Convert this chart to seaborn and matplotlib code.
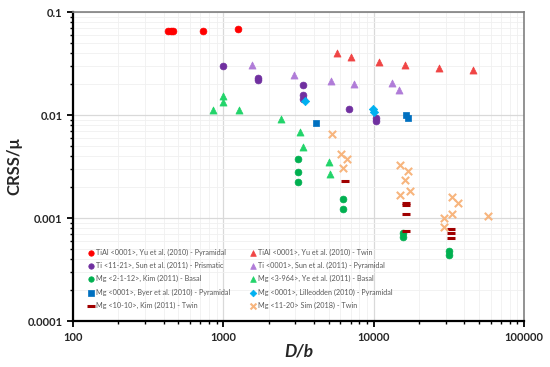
"""CRSS/mu vs D/b scatter for TiAl, Ti and Mg micropillar data."""
import matplotlib
matplotlib.use("Agg")
import matplotlib.pyplot as plt
import matplotlib.ticker as mticker
import pandas as pd
import seaborn as sns

# --- data ---
tial_pyr_x = [425, 445, 462, 735, 1240]
tial_pyr_y = [0.066, 0.066, 0.066, 0.066, 0.068]

tial_twin_x = [5670, 7030, 10800, 16100, 27100, 45700]
tial_twin_y = [0.040, 0.0366, 0.0327, 0.0306, 0.0286, 0.0274]

ti_prism_x = [1000, 1700, 1700, 3360, 3360, 3400, 6810, 10300, 10300]
ti_prism_y = [0.030, 0.0229, 0.0219, 0.0195, 0.0156, 0.0143, 0.0114, 0.0093, 0.0088]

ti_pyr_x = [1540, 2930, 5170, 7360, 13200, 14700]
ti_pyr_y = [0.0306, 0.0244, 0.0214, 0.020, 0.0205, 0.0175]

mg_kim_basal_x = [3110, 3110, 3110, 6210, 6210, 15600, 15600, 31600, 31600]
mg_kim_basal_y = [0.00374, 0.0028, 0.00224, 0.00153, 0.00122, 0.000714, 0.00066, 0.00048, 0.000437]

mg_ye_basal_x = [858, 1000, 1000, 1260, 2400, 3210, 3360, 5010, 5100]
mg_ye_basal_y = [0.0112, 0.0153, 0.0134, 0.0112, 0.00914, 0.00684, 0.00489, 0.0035, 0.00267]

mg_byer_x = [4100, 16300, 16800]
mg_byer_y = [0.00835, 0.0100, 0.00934]

mg_lill_x = [3470, 9950, 10100]
mg_lill_y = [0.0137, 0.0115, 0.0108]

mg_kim_twin_x = [6410, 16300, 16300, 16300, 16300, 32600, 32600, 32600]
mg_kim_twin_y = [0.00229, 0.0014, 0.00134, 0.00109, 0.00075, 0.000776, 0.000721, 0.000635]

mg_sim_x = [5250, 6030, 6610, 6210, 14900, 16800, 16100, 17400, 14900,
            33100, 36300, 33100, 29300, 29300, 57500]
mg_sim_y = [0.00655, 0.00418, 0.00374, 0.00305, 0.00327, 0.00286, 0.00234, 0.00183, 0.00167,
            0.0016, 0.00139, 0.00109, 0.001, 0.00082, 0.00104]

x_ticks = [100, 1000, 10000, 100000]
y_ticks = [0.0001, 0.001, 0.01, 0.1]
y_tick_labels = ['0.0001', '0.001', '0.01', '0.1']

# label, x, y, marker, color, size, line width
series = [
    ('TiAl <0001>, Yu et al. (2010) - Pyramidal', tial_pyr_x, tial_pyr_y, 'o', '#ff0000', 24, 0.5),
    ('Ti <11-21>, Sun et al. (2011) - Prismatic', ti_prism_x, ti_prism_y, 'o', '#7030a0', 24, 0.5),
    ('Mg <2-1-12>, Kim (2011) - Basal', mg_kim_basal_x, mg_kim_basal_y, 'o', '#00b050', 24, 0.5),
    ('Mg <0001>, Byer et al. (2010) - Pyramidal', mg_byer_x, mg_byer_y, 's', '#0070c0', 22, 0.5),
    ('Mg <10-10>, Kim (2011) - Twin', mg_kim_twin_x, mg_kim_twin_y, '_', '#a00000', 40, 2.2),
    ('TiAl <0001>, Yu et al. (2010) - Twin', tial_twin_x, tial_twin_y, '^', '#f04545', 26, 0.5),
    ('Ti <0001>, Sun et al. (2011) - Pyramidal', ti_pyr_x, ti_pyr_y, '^', '#b07cd8', 26, 0.5),
    ('Mg <3-964>, Ye et al. (2011) - Basal', mg_ye_basal_x, mg_ye_basal_y, '^', '#22d46a', 26, 0.5),
    ('Mg <0001>, Lilleodden (2010) - Pyramidal', mg_lill_x, mg_lill_y, 'D', '#00b0f0', 18, 0.5),
    ('Mg <11-20> Sim (2018) - Twin', mg_sim_x, mg_sim_y, 'x', '#f7b57e', 28, 1.5),
]

sns.set_style("white")
plt.rcParams['font.family'] = ['Lato', 'DejaVu Sans']

fig, ax = plt.subplots(figsize=(5.5, 3.67), dpi=100)
fig.subplots_adjust(left=0.133, right=0.953, top=0.967, bottom=0.125)

for label, xs, ys, marker, color, size, lw in series:
    df = pd.DataFrame({'D/b': xs, 'CRSS': ys})
    sns.scatterplot(data=df, x='D/b', y='CRSS', ax=ax, marker=marker, color=color,
                    s=size, edgecolor=color if marker not in ('x', '_') else None,
                    linewidth=lw, label=label, zorder=3)

ax.set_xscale('log')
ax.set_yscale('log')
ax.set_xlim(100, 100000)
ax.set_ylim(0.0001, 0.1)
ax.set_xticks(x_ticks)
ax.set_xticklabels([str(v) for v in x_ticks])
ax.set_yticks(y_ticks)
ax.set_yticklabels(y_tick_labels)
ax.xaxis.set_minor_locator(mticker.LogLocator(base=10, subs=range(2, 10)))
ax.yaxis.set_minor_locator(mticker.LogLocator(base=10, subs=range(2, 10)))
ax.xaxis.set_minor_formatter(mticker.NullFormatter())
ax.yaxis.set_minor_formatter(mticker.NullFormatter())

ax.grid(which='major', color='#d9d9d9', linewidth=0.9, zorder=0)
ax.grid(which='minor', color='#f0f0f0', linewidth=0.6, zorder=0)
ax.set_axisbelow(True)

for side in ('left', 'bottom'):
    ax.spines[side].set_color('black')
    ax.spines[side].set_linewidth(1.6)
for side in ('top', 'right'):
    ax.spines[side].set_color('#808080')
    ax.spines[side].set_linewidth(1.2)

ax.tick_params(which='major', direction='out', length=4, width=1.3, color='black',
               labelsize=8)
ax.tick_params(which='minor', direction='out', length=2.5, width=1.0, color='black')
ax.tick_params(axis='both', which='both', left=True, bottom=True)
for lab in ax.get_xticklabels() + ax.get_yticklabels():
    lab.set_fontweight('bold')

ax.set_xlabel('D/b', fontsize=12.5, fontweight='bold', fontstyle='italic', labelpad=1)
ax.set_ylabel('CRSS/\u03bc', fontsize=12, fontweight='bold', labelpad=4)

leg = ax.legend(loc='lower left', bbox_to_anchor=(0.025, 0.03), ncol=2, frameon=False,
                fontsize=5.2, handletextpad=0.2, handlelength=1.0, columnspacing=2.6,
                labelspacing=0.85, markerscale=0.8, borderaxespad=0)
for t in leg.get_texts():
    t.set_color('#595959')

fig.savefig('out.png', dpi=100)
